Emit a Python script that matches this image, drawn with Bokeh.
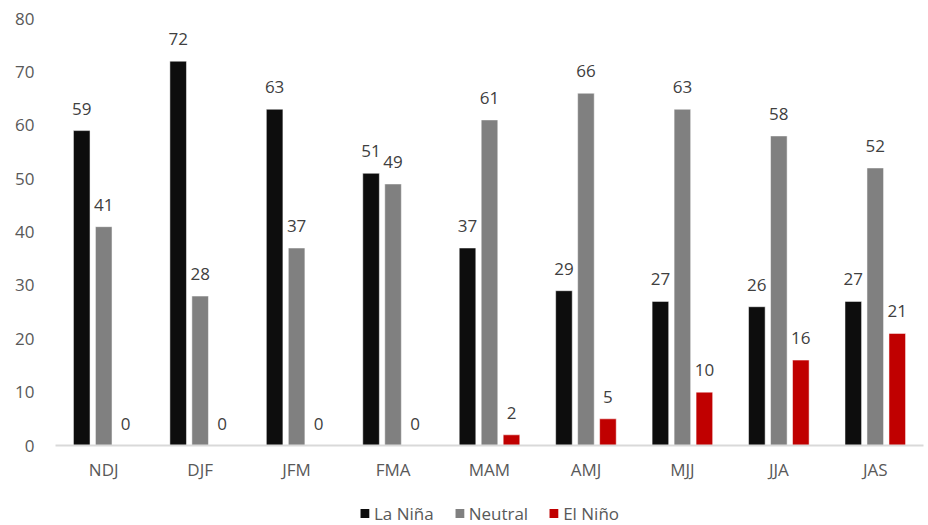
from bokeh.plotting import figure
from bokeh.layouts import column
from bokeh.models import ColumnDataSource, Legend, LegendItem, FixedTicker
from bokeh.transform import dodge
from bokeh.core.properties import value
from bokeh.embed import file_html
from bokeh.resources import INLINE

seasons = ["NDJ", "DJF", "JFM", "FMA", "MAM", "AMJ", "MJJ", "JJA", "JAS"]
la_nina = [59, 72, 63, 51, 37, 29, 27, 26, 27]
neutral = [41, 28, 37, 49, 61, 66, 63, 58, 52]
el_nino = [0, 0, 0, 0, 2, 5, 10, 16, 21]
y_ticks = [0, 10, 20, 30, 40, 50, 60, 70, 80]

FONT = "Open Sans"
TEXT = "#595959"

src = ColumnDataSource(dict(
    season=seasons,
    la_nina=la_nina, neutral=neutral, el_nino=el_nino,
    la_nina_txt=[str(v) for v in la_nina],
    neutral_txt=[str(v) for v in neutral],
    el_nino_txt=[str(v) for v in el_nino],
))

p = figure(x_range=seasons, y_range=(0, 80), width=928, height=500,
           output_backend="svg", toolbar_location=None,
           min_border_left=55, min_border_right=5, min_border_top=18,
           min_border_bottom=55)
p.outline_line_color = None
p.xgrid.grid_line_color = None
p.ygrid.grid_line_color = None

series = [
    ("la_nina", "La Niña", "#0d0d0d", -0.228),
    ("neutral", "Neutral", "#808080", 0.0),
    ("el_nino", "El Niño", "#c00000", 0.228),
]
for key, name, color, off in series:
    p.vbar(x=dodge("season", off, range=p.x_range), top=key, width=0.172,
           source=src, fill_color=color, line_color="white",
           line_alpha=0.5, line_width=1)
    p.text(x=dodge("season", off, range=p.x_range), y=key, text=key + "_txt",
           source=src, text_align="center", text_baseline="bottom",
           y_offset=-16, text_font=value(FONT), text_font_size="17px",
           text_color="#404040")

p.xaxis.axis_line_color = "#d9d9d9"
p.xaxis.axis_line_width = 2
p.xaxis.major_tick_line_color = None
p.xaxis.minor_tick_line_color = None
p.xaxis.major_label_standoff = 6
p.xaxis.major_label_text_font = FONT
p.xaxis.major_label_text_font_size = "17px"
p.xaxis.major_label_text_color = TEXT

p.yaxis.ticker = FixedTicker(ticks=y_ticks)
p.yaxis.axis_line_color = None
p.yaxis.major_tick_line_color = None
p.yaxis.minor_tick_line_color = None
p.yaxis.major_label_standoff = 15
p.yaxis.major_label_text_font = FONT
p.yaxis.major_label_text_font_size = "17px"
p.yaxis.major_label_text_color = TEXT

# Legend strip under the chart; swatch renderers are zero-sized bars
lg = figure(width=928, height=25, output_backend="svg", toolbar_location=None,
            x_range=(0, 1), y_range=(0, 1), min_border_left=28,
            min_border_right=0, min_border_top=0, min_border_bottom=0)
lg.axis.visible = False
lg.xgrid.grid_line_color = None
lg.ygrid.grid_line_color = None
lg.outline_line_color = None
swatch = ColumnDataSource(dict(x=[0.5], top=[0]))
items = []
for key, name, color, off in series:
    r = lg.vbar(x="x", top="top", width=0, source=swatch, fill_color=color,
                line_color=None)
    items.append(LegendItem(label=name, renderers=[r]))

legend = Legend(items=items, orientation="horizontal", location="center",
                label_text_font=FONT, label_text_font_size="17px",
                label_text_color=TEXT, glyph_width=11, glyph_height=11,
                label_standoff=4, spacing=20, padding=0, margin=0,
                border_line_color=None, background_fill_alpha=0)
lg.add_layout(legend)

layout = column(p, lg, spacing=0)
open("out.html", "w").write(file_html(layout, INLINE))
